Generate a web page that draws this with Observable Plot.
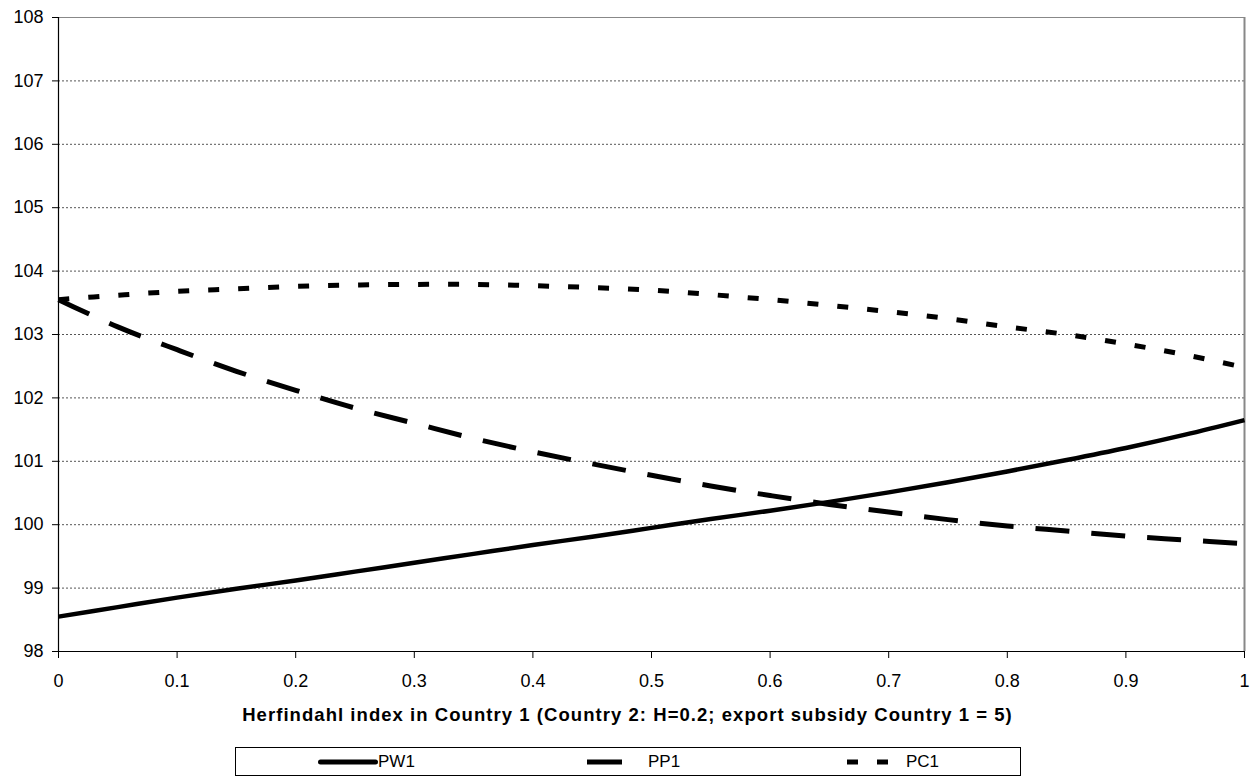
<!DOCTYPE html>
<html>
<head>
<meta charset="utf-8">
<script src="https://cdn.jsdelivr.net/npm/d3@7"></script>
<script src="https://cdn.jsdelivr.net/npm/@observablehq/plot@0.6"></script>
<style>
  html, body { margin: 0; padding: 0; background: #fff; }
  body { width: 1254px; height: 778px; position: relative; overflow: hidden; font-family: "Liberation Sans", Arial, sans-serif; }
  #chart { position: absolute; left: 0; top: 0; }
  #legend { position: absolute; left: 235px; top: 747px; width: 786px; height: 29px; border: 1px solid #000; box-sizing: border-box; }
  .item { position: absolute; top: 0; height: 27px; display: flex; align-items: center; font-size: 17px; color: #000; }
</style>
</head>
<body>
<div id="chart"></div>
<div id="legend"></div>
<script>
const hIndex = [0, 0.05, 0.1, 0.15, 0.2, 0.25, 0.3, 0.35, 0.4, 0.45, 0.5, 0.55, 0.6, 0.65, 0.7, 0.75, 0.8, 0.85, 0.9, 0.95, 1];
const PW1 = [98.55, 98.70, 98.85, 98.99, 99.12, 99.26, 99.40, 99.54, 99.68, 99.81, 99.95, 100.09, 100.22, 100.36, 100.51, 100.67, 100.84, 101.02, 101.21, 101.42, 101.65];
const PP1 = [103.55, 103.12, 102.76, 102.42, 102.12, 101.84, 101.60, 101.36, 101.15, 100.96, 100.78, 100.61, 100.46, 100.32, 100.20, 100.08, 99.98, 99.90, 99.82, 99.76, 99.70];
const PC1 = [103.55, 103.62, 103.68, 103.72, 103.76, 103.78, 103.79, 103.79, 103.77, 103.74, 103.70, 103.63, 103.55, 103.46, 103.36, 103.25, 103.12, 103.00, 102.85, 102.68, 102.48];
const seriesNames = ["PW1", "PP1", "PC1"];
const xTicks = [0, 0.1, 0.2, 0.3, 0.4, 0.5, 0.6, 0.7, 0.8, 0.9, 1];
const yTicks = [98, 99, 100, 101, 102, 103, 104, 105, 106, 107, 108];
const xTitle = "Herfindahl index in Country 1 (Country 2: H=0.2; export subsidy Country 1 = 5)";

const styles = {
  PW1: { dash: null, width: 4.5 },
  PP1: { dash: "34,22", width: 5 },
  PC1: { dash: "11,19", width: 5 }
};
const seriesData = { PW1, PP1, PC1 };
const rows = seriesNames.map(name => hIndex.map((h, i) => ({ h, v: seriesData[name][i], name })));

const lineMarks = seriesNames.map((name, k) => Plot.line(rows[k], {
  x: "h", y: "v", stroke: "#000", strokeWidth: styles[name].width,
  strokeDasharray: styles[name].dash, strokeLinecap: "butt", curve: "catmull-rom"
}));

const chart = Plot.plot({
  width: 1254,
  height: 740,
  marginLeft: 58,
  marginRight: 10,
  marginTop: 17,
  marginBottom: 89,
  style: { fontFamily: "Liberation Sans, Arial, sans-serif", color: "#000", background: "#fff" },
  x: { domain: [0, 1] },
  y: { domain: [98, 108] },
  marks: [
    Plot.ruleY(yTicks.slice(1, -1), { stroke: "#555", strokeWidth: 1, strokeDasharray: "2,2" }),
    Plot.ruleY([108], { stroke: "#888", strokeWidth: 1.2 }),
    Plot.ruleX([1], { stroke: "#888", strokeWidth: 2 }),
    ...lineMarks,
    Plot.axisY({ ticks: yTicks, tickSize: 6, tickPadding: 9, tickFormat: d => String(d), label: null }),
    Plot.axisX({ ticks: xTicks, tickSize: 7, tickPadding: 16, tickFormat: d => String(d), label: null }),
    Plot.ruleX([0], { stroke: "#000", strokeWidth: 1.2 }),
    Plot.ruleY([98], { stroke: "#000", strokeWidth: 1.2 }),
    Plot.text([xTitle], { frameAnchor: "bottom", lineAnchor: "bottom", dx: -24, dy: 69, text: d => d, fontWeight: "bold" })
  ]
});
d3.select(chart).selectAll("text")
  .style("font-family", "Liberation Sans, Arial, sans-serif")
  .style("font-size", "18px")
  .style("fill", "#000");
d3.select(chart).selectAll("text").filter(function() { return this.textContent === xTitle; })
  .style("font-size", "18.5px").style("font-weight", "bold").style("letter-spacing", "1.05px");
document.getElementById("chart").appendChild(chart);

// Legend
const legend = document.getElementById("legend");
const legendItems = {
  PW1: { left: 82, width: 60, dash: null, cap: "round", gap: 0 },
  PP1: { left: 351, width: 35, dash: null, cap: "butt", gap: 26 },
  PC1: { left: 611, width: 41, dash: "11,19", cap: "butt", gap: 18 }
};
seriesNames.forEach(name => {
  const cfg = legendItems[name];
  const item = document.createElement("div");
  item.className = "item";
  item.style.left = cfg.left + "px";
  const svg = d3.create("svg").attr("width", cfg.width).attr("height", 10).style("overflow", "visible");
  svg.append("line").attr("x1", cfg.cap === "round" ? 2.5 : 0).attr("x2", cfg.cap === "round" ? cfg.width - 2.5 : cfg.width)
    .attr("y1", 5).attr("y2", 5)
    .attr("stroke", "#000").attr("stroke-width", 5)
    .attr("stroke-linecap", cfg.cap)
    .attr("stroke-dasharray", cfg.dash);
  item.appendChild(svg.node());
  const label = document.createElement("span");
  label.textContent = name;
  label.style.marginLeft = cfg.gap + "px";
  item.appendChild(label);
  legend.appendChild(item);
});
</script>
</body>
</html>
